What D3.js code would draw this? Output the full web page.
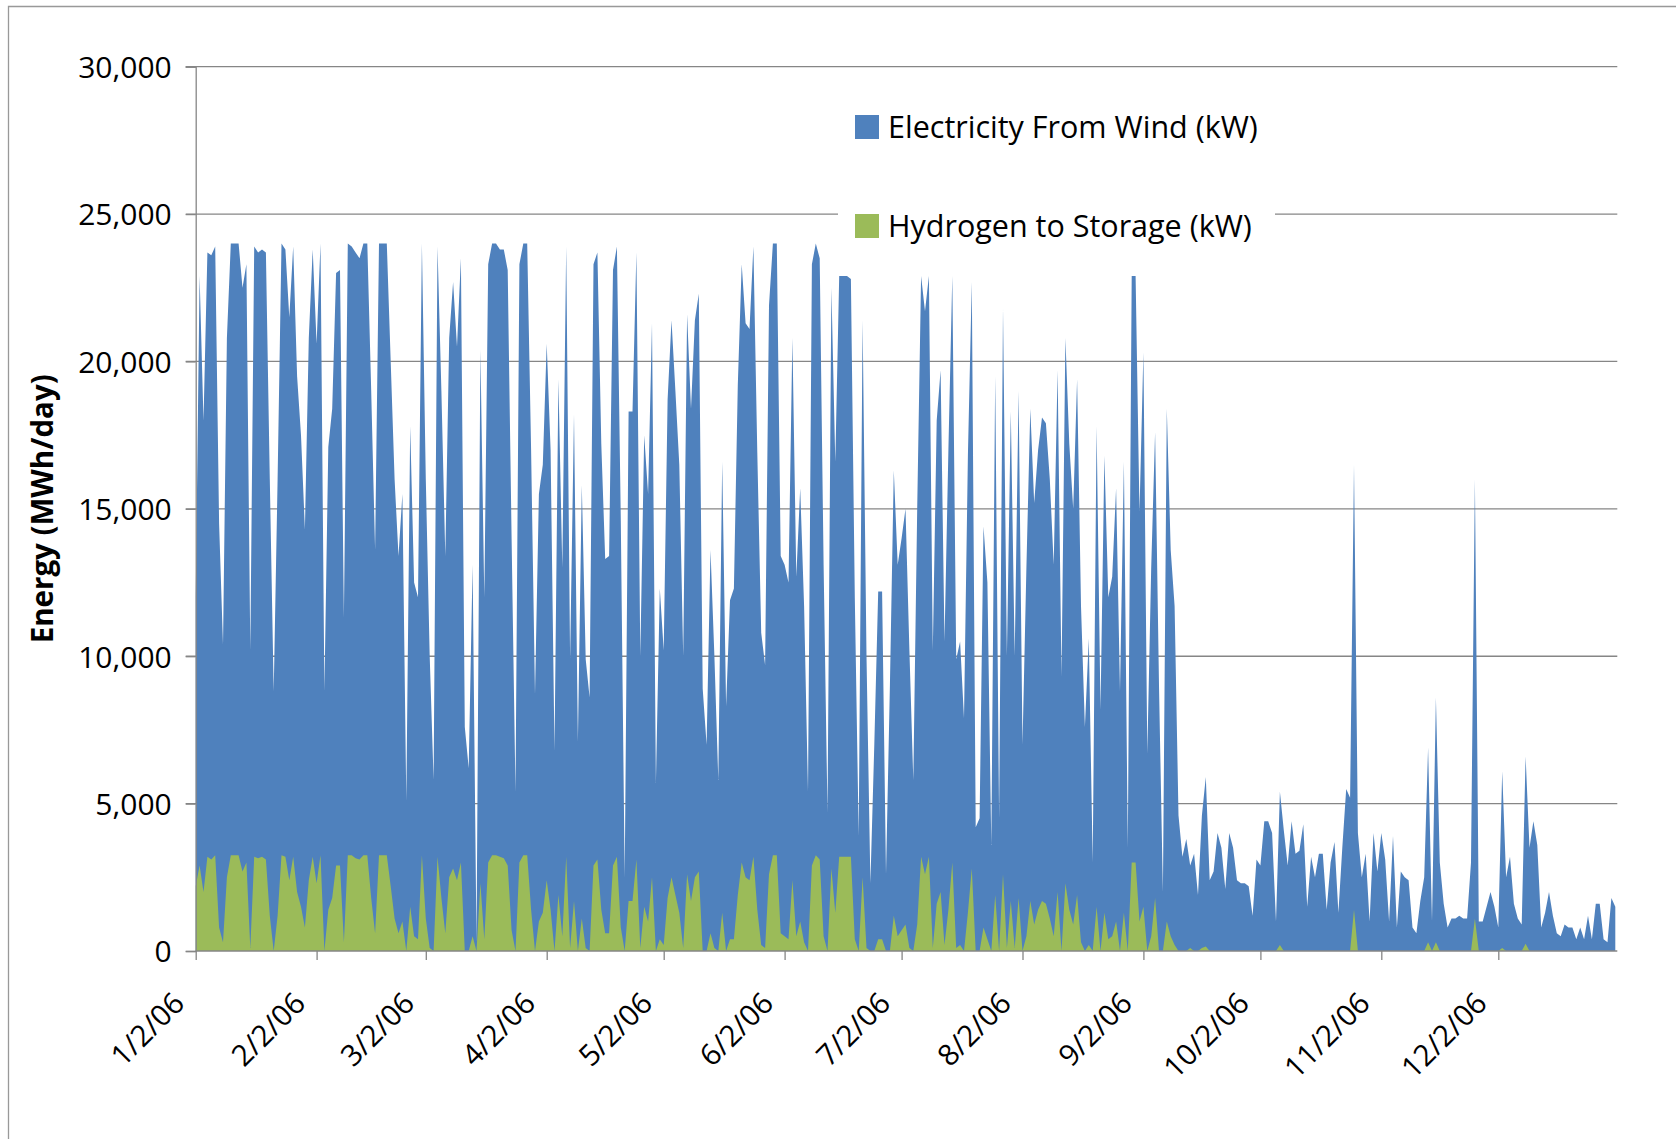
<!DOCTYPE html>
<html>
<head>
<meta charset="utf-8">
<script src="https://cdn.jsdelivr.net/npm/d3@7"></script>
<style>
  body { margin: 0; background: #fff; }
  text { font-family: "Open Sans", "Noto Sans", sans-serif; fill: #000; }
</style>
</head>
<body>
<div class="area-chart"></div>
<script>
// daily values, starting 1/2/06
const startDate = new Date(2006, 0, 2);
const endDate = new Date(2007, 0, 1);

const wind = [
  12000,22900,18000,23700,23600,23900,14500,10400,20800,24000,
  24000,24000,22500,23300,10200,23900,23700,23800,23700,16000,
  8800,16000,24000,23800,21500,23900,19500,17500,14300,20800,
  23800,20600,24000,8800,17100,18400,23000,23100,11300,24000,
  23900,23700,23500,24000,24000,19000,13600,24000,24000,24000,
  20000,16000,13400,15500,5100,17800,12500,12000,24000,16000,
  10000,5800,23900,19000,13400,20800,22700,20500,23500,7600,
  6200,13100,300,20400,12000,23300,24000,24000,23800,23800,
  23100,14000,5400,23300,24000,24000,17000,8700,15500,16500,
  20600,17000,6800,19400,13000,23900,9900,18200,7100,15800,
  9900,8600,23300,23700,17200,13300,13400,23100,23900,14600,
  2500,18300,18300,23700,10000,17500,15500,21300,5700,12300,
  10200,18700,21400,19000,16500,10000,21600,18400,21400,22300,
  8900,7000,13600,10000,5800,16600,8300,11900,12300,19200,
  23300,21300,21100,23900,16900,10800,9700,21900,24000,24000,
  13400,13100,12500,20800,12700,15700,11700,5400,23300,24000,
  23500,13100,4700,22500,16600,22900,22900,22900,22800,12000,
  3900,21400,10000,2300,7000,12200,12200,2600,9000,16300,
  13100,14000,15000,10200,5800,15000,22900,21700,22900,10200,
  18000,19700,10500,17000,22900,9900,10500,7900,16800,22700,
  4200,4500,14400,12500,3600,19500,4500,21800,10000,18300,
  10000,19000,7000,13000,18400,15200,17000,18100,17900,16000,
  13100,19700,9300,20800,17200,15000,19400,11700,7600,10600,
  3000,17800,8200,16800,12000,12700,15700,8800,16600,3500,
  22900,22900,14900,20300,6700,13000,17600,9000,2000,18400,
  13600,11700,4600,3200,3800,2900,3300,1900,4600,5900,
  2400,2700,4000,3500,2100,4000,3500,2400,2300,2300,
  2200,1200,3100,2900,4400,4400,4000,1000,5400,4100,
  2900,4400,3300,3400,4300,1500,3200,2500,3300,3300,
  1400,3000,3700,1300,3500,5500,5200,16500,4000,2500,
  3300,1000,4000,2700,4000,3100,1000,3900,800,2700,
  2500,2400,800,600,1700,2500,6900,1000,8600,3000,
  1600,800,1100,1100,1200,1100,1100,3000,16000,1000,
  1000,1500,2000,1500,800,6100,2500,3200,1600,1100,
  900,6600,3500,4400,3600,800,1300,2000,1200,600,
  500,900,800,800,400,800,400,1200,400,1600,
  1600,400,300,1800,1500
];

const hydrogen = [
  2200,2900,2000,3200,3100,3250,800,300,2500,3250,
  3250,3250,2700,3000,100,3200,3150,3200,3100,1200,
  0,1200,3250,3200,2400,3200,2000,1500,800,2400,
  3200,2300,3250,0,1400,1800,2900,2900,300,3250,
  3250,3150,3100,3250,3250,1800,600,3250,3250,3250,
  2200,1100,600,1000,0,1500,500,400,3250,1100,
  100,0,3200,1800,600,2500,2800,2400,3000,0,
  0,500,0,2300,400,3000,3250,3250,3200,3150,
  2900,700,0,3000,3250,3250,1400,0,1000,1300,
  2400,1400,0,1900,500,3200,100,1700,0,1100,
  100,0,2900,3100,1400,600,600,2900,3200,800,
  0,1700,1700,3100,100,1500,1000,2500,0,400,
  200,1800,2500,1900,1300,100,2600,1700,2500,2700,
  0,0,600,100,0,1300,0,400,400,1900,
  3000,2500,2400,3200,1400,200,100,2600,3250,3250,
  600,500,400,2400,500,1000,300,0,2900,3250,
  3100,500,0,2800,1300,3200,3200,3200,3200,400,
  0,2500,100,0,0,400,400,0,0,1200,
  500,700,900,100,0,900,3200,2600,3200,100,
  1600,2000,200,1400,3000,100,200,0,1300,2800,
  0,0,800,400,0,1900,0,2600,100,1700,
  100,1800,0,500,1700,900,1400,1700,1600,1100,
  500,2000,0,2300,1400,900,1900,300,0,200,
  0,1500,0,1300,400,500,1000,0,1300,0,
  3000,3000,1000,1500,0,500,1800,0,0,1000,
  500,200,0,0,0,100,0,0,100,150,
  0,0,0,0,0,0,0,0,0,0,
  0,0,0,0,0,0,0,0,200,0,
  0,0,0,0,0,0,0,0,0,0,
  0,0,0,0,0,0,0,1400,0,0,
  0,0,0,0,0,0,0,0,0,0,
  0,0,0,0,0,0,300,0,300,0,
  0,0,0,0,0,0,0,0,1100,0,
  0,0,0,0,0,100,0,0,0,0,
  0,250,0,0,0,0,0,0,0,0,
  0,0,0,0,0,0,0,0,0,0,
  0,0,0,0,0
];

const seriesNames = ["Electricity From Wind (kW)", "Hydrogen to Storage (kW)"];
const colors = ["#4F81BD", "#9BBB59"];
const yTicks = [0, 5000, 10000, 15000, 20000, 25000, 30000];
const tickMonths = d3.range(0, 12);

const dates = wind.map((d, i) => d3.timeDay.offset(startDate, i));
const data = dates.map((date, i) => ({date: date, wind: wind[i], h2: hydrogen[i]}));

const W = 1676, H = 1139;
const plot = {left: 195.7, right: 1615.3, top: 66.7, bottom: 951};

const svg = d3.select(".area-chart")
    .append("svg")
    .attr("width", W)
    .attr("height", H);

// outer chart frame (only top and left edges fall inside the picture)
svg.append("path")
    .attr("d", `M8.5,${H} L8.5,6.5 L${W},6.5`)
    .attr("fill", "none")
    .attr("stroke", "#999")
    .attr("stroke-width", 1.3);

const xScale = d3.scaleTime()
    .domain([startDate, endDate])
    .range([plot.left, plot.right]);

const yScale = d3.scaleLinear()
    .domain([0, 30000])
    .range([plot.bottom, plot.top]);

// gridlines
svg.append("g")
    .selectAll("line")
    .data(yTicks.filter(d => d > 0))
    .enter()
    .append("line")
    .attr("x1", plot.left - 10)
    .attr("x2", plot.right + 2)
    .attr("y1", d => yScale(d))
    .attr("y2", d => yScale(d))
    .attr("stroke", "#868686")
    .attr("stroke-width", 1.3);

// areas (overlapping, not stacked)
const windArea = d3.area()
    .x(d => xScale(d.date))
    .y0(yScale(0))
    .y1(d => yScale(d.wind));

const h2Area = d3.area()
    .x(d => xScale(d.date))
    .y0(yScale(0))
    .y1(d => yScale(d.h2));

svg.append("path")
    .datum(data)
    .attr("fill", colors[0])
    .attr("d", windArea);

svg.append("path")
    .datum(data)
    .attr("fill", colors[1])
    .attr("d", h2Area);

// y axis
const yAxis = d3.axisLeft(yScale)
    .tickValues(yTicks)
    .tickSize(10)
    .tickPadding(14)
    .tickFormat(d3.format(","));

const yAxisGroup = svg.append("g")
    .attr("transform", `translate(${plot.left}, 0)`)
    .call(yAxis);

yAxisGroup.select(".domain").attr("stroke", "#868686").attr("stroke-width", 1.3);
yAxisGroup.selectAll(".tick line").attr("stroke", "#868686").attr("stroke-width", 1.3);
yAxisGroup.selectAll(".tick text")
    .attr("font-size", 30)
    .attr("font-family", "Open Sans")
    .attr("fill", "#000")
    .attr("dy", "0.36em");

// x axis
const xTickValues = tickMonths.map(m => new Date(2006, m, 2));
const xAxis = d3.axisBottom(xScale)
    .tickValues(xTickValues)
    .tickSize(9)
    .tickFormat(d3.timeFormat("%-m/%-d/%y"));

const xAxisGroup = svg.append("g")
    .attr("transform", `translate(0, ${plot.bottom})`)
    .call(xAxis);

xAxisGroup.select(".domain").attr("stroke", "#868686").attr("stroke-width", 1.3)
    .attr("d", `M${plot.left},0H${plot.right + 2}`);
xAxisGroup.selectAll(".tick line").attr("stroke", "#868686").attr("stroke-width", 1.3);
xAxisGroup.selectAll(".tick text")
    .attr("font-size", 29.5)
    .attr("font-family", "Open Sans")
    .attr("fill", "#000")
    .attr("text-anchor", "end")
    .attr("y", 0)
    .attr("dy", 0)
    .attr("transform", "translate(-10, 54) rotate(-45)");

// y axis title
svg.append("text")
    .attr("class", "ylabel")
    .attr("transform", `translate(53, ${(plot.top + plot.bottom) / 2}) rotate(-90)`)
    .attr("text-anchor", "middle")
    .attr("font-size", 29.5)
    .attr("font-weight", "bold")
    .text("Energy (MWh/day)");

// legend
const legend = svg.append("g").attr("class", "legend");

legend.append("rect")
    .attr("x", 838)
    .attr("y", 92)
    .attr("width", 437)
    .attr("height", 163)
    .attr("fill", "#fff");

const legendItems = legend.selectAll("g.item")
    .data(seriesNames)
    .enter()
    .append("g")
    .attr("class", "item")
    .attr("transform", (d, i) => `translate(855, ${115 + i * 99})`);

legendItems.append("rect")
    .attr("width", 24)
    .attr("height", 24)
    .attr("fill", (d, i) => colors[i]);

legendItems.append("text")
    .attr("x", 33)
    .attr("y", 23)
    .attr("font-size", 30.5)
    .text(d => d);
</script>
</body>
</html>
